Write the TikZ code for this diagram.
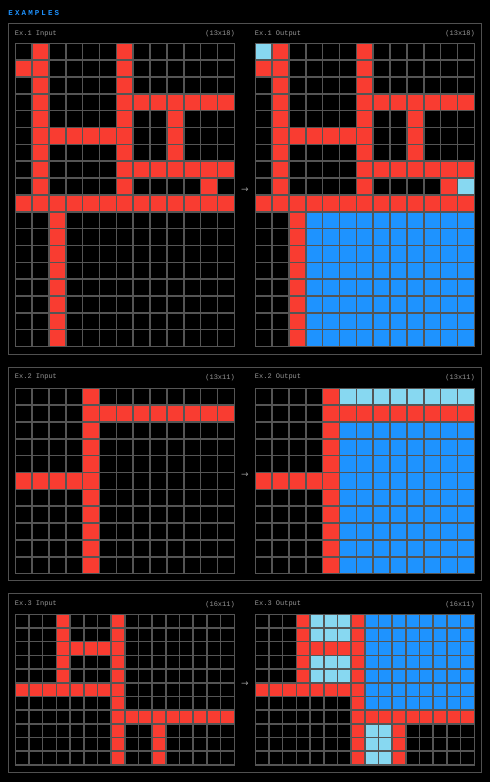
\documentclass[tikz,border=0pt]{standalone}
\usepackage{fontspec}
\setmonofont{Liberation Mono}
\newfontfamily\titlefont[LetterSpace=28]{Liberation Mono}
\newfontfamily\arrowfont{DejaVu Sans}

\begin{document}
\begin{tikzpicture}[x=1pt, y=-1pt,
    every node/.style={font=\ttfamily\fontsize{7}{8}\selectfont, inner sep=0pt, text=labeltext},
    exlabel/.style={anchor=west},
    exsize/.style={anchor=east},
    panelbox/.style={draw=panelline, line width=1pt},
    exarrow/.style={font=\arrowfont\fontsize{9}{10}\selectfont}]
    \definecolor{arc0}{RGB}{0,0,0}
    \definecolor{arc1}{RGB}{30,147,255}
    \definecolor{arc2}{RGB}{249,60,49}
    \definecolor{arc8}{RGB}{135,216,241}
    \definecolor{gridline}{RGB}{85,85,85}
    \definecolor{panelline}{RGB}{80,80,80}
    \definecolor{labeltext}{RGB}{150,150,150}
    \definecolor{titleblue}{RGB}{30,147,255}

    % Fond noir et format de la page.
    \useasboundingbox[fill=black] (0,0) rectangle (490,782);

    % Une grille : coin haut gauche, taille d'une case, lignes de couleurs.
    \newcommand{\examplegrid}[4]{%
        \foreach \row [count=\j from 0] in {#4} {
            \foreach \v [count=\i from 0] in \row {
                \filldraw[fill=arc\v, draw=gridline, line width=1.6pt]
                    ({#1+\i*#3},{#2+\j*#3}) rectangle ++(#3,#3);
            }
        }
    }

    \node[anchor=west, text=titleblue, font=\titlefont\bfseries\fontsize{7.5}{8}\selectfont] (title) at (8.3,13.3) {EXAMPLES};

    % Exemple 1.
    \draw[panelbox] (8.3,23.3) rectangle (481.3,354.3);
    \node[exlabel] (in1) at (14.7,33.7) {Ex.1 Input};
    \node[exsize] (insize1) at (235,33.7) {(13x18)};
    \node[exlabel] (out1) at (254.7,33.7) {Ex.1 Output};
    \node[exsize] (outsize1) at (475,33.7) {(13x18)};
    \examplegrid{15.3}{43.3}{16.846}{
        {0,2,0,0,0,0,2,0,0,0,0,0,0},
        {2,2,0,0,0,0,2,0,0,0,0,0,0},
        {0,2,0,0,0,0,2,0,0,0,0,0,0},
        {0,2,0,0,0,0,2,2,2,2,2,2,2},
        {0,2,0,0,0,0,2,0,0,2,0,0,0},
        {0,2,2,2,2,2,2,0,0,2,0,0,0},
        {0,2,0,0,0,0,2,0,0,2,0,0,0},
        {0,2,0,0,0,0,2,2,2,2,2,2,2},
        {0,2,0,0,0,0,2,0,0,0,0,2,0},
        {2,2,2,2,2,2,2,2,2,2,2,2,2},
        {0,0,2,0,0,0,0,0,0,0,0,0,0},
        {0,0,2,0,0,0,0,0,0,0,0,0,0},
        {0,0,2,0,0,0,0,0,0,0,0,0,0},
        {0,0,2,0,0,0,0,0,0,0,0,0,0},
        {0,0,2,0,0,0,0,0,0,0,0,0,0},
        {0,0,2,0,0,0,0,0,0,0,0,0,0},
        {0,0,2,0,0,0,0,0,0,0,0,0,0},
        {0,0,2,0,0,0,0,0,0,0,0,0,0}}
    \node[exarrow] (arrow1) at (245,190) {→};
    \examplegrid{255.3}{43.3}{16.846}{
        {8,2,0,0,0,0,2,0,0,0,0,0,0},
        {2,2,0,0,0,0,2,0,0,0,0,0,0},
        {0,2,0,0,0,0,2,0,0,0,0,0,0},
        {0,2,0,0,0,0,2,2,2,2,2,2,2},
        {0,2,0,0,0,0,2,0,0,2,0,0,0},
        {0,2,2,2,2,2,2,0,0,2,0,0,0},
        {0,2,0,0,0,0,2,0,0,2,0,0,0},
        {0,2,0,0,0,0,2,2,2,2,2,2,2},
        {0,2,0,0,0,0,2,0,0,0,0,2,8},
        {2,2,2,2,2,2,2,2,2,2,2,2,2},
        {0,0,2,1,1,1,1,1,1,1,1,1,1},
        {0,0,2,1,1,1,1,1,1,1,1,1,1},
        {0,0,2,1,1,1,1,1,1,1,1,1,1},
        {0,0,2,1,1,1,1,1,1,1,1,1,1},
        {0,0,2,1,1,1,1,1,1,1,1,1,1},
        {0,0,2,1,1,1,1,1,1,1,1,1,1},
        {0,0,2,1,1,1,1,1,1,1,1,1,1},
        {0,0,2,1,1,1,1,1,1,1,1,1,1}}

    % Exemple 2.
    \draw[panelbox] (8.3,367.3) rectangle (481.3,580);
    \node[exlabel] (in2) at (14.7,377.3) {Ex.2 Input};
    \node[exsize] (insize2) at (235,377.3) {(13x11)};
    \node[exlabel] (out2) at (254.7,377.3) {Ex.2 Output};
    \node[exsize] (outsize2) at (475,377.3) {(13x11)};
    \examplegrid{15.3}{388.3}{16.846}{
        {0,0,0,0,2,0,0,0,0,0,0,0,0},
        {0,0,0,0,2,2,2,2,2,2,2,2,2},
        {0,0,0,0,2,0,0,0,0,0,0,0,0},
        {0,0,0,0,2,0,0,0,0,0,0,0,0},
        {0,0,0,0,2,0,0,0,0,0,0,0,0},
        {2,2,2,2,2,0,0,0,0,0,0,0,0},
        {0,0,0,0,2,0,0,0,0,0,0,0,0},
        {0,0,0,0,2,0,0,0,0,0,0,0,0},
        {0,0,0,0,2,0,0,0,0,0,0,0,0},
        {0,0,0,0,2,0,0,0,0,0,0,0,0},
        {0,0,0,0,2,0,0,0,0,0,0,0,0}}
    \node[exarrow] (arrow2) at (245,475) {→};
    \examplegrid{255.3}{388.3}{16.846}{
        {0,0,0,0,2,8,8,8,8,8,8,8,8},
        {0,0,0,0,2,2,2,2,2,2,2,2,2},
        {0,0,0,0,2,1,1,1,1,1,1,1,1},
        {0,0,0,0,2,1,1,1,1,1,1,1,1},
        {0,0,0,0,2,1,1,1,1,1,1,1,1},
        {2,2,2,2,2,1,1,1,1,1,1,1,1},
        {0,0,0,0,2,1,1,1,1,1,1,1,1},
        {0,0,0,0,2,1,1,1,1,1,1,1,1},
        {0,0,0,0,2,1,1,1,1,1,1,1,1},
        {0,0,0,0,2,1,1,1,1,1,1,1,1},
        {0,0,0,0,2,1,1,1,1,1,1,1,1}}

    % Exemple 3.
    \draw[panelbox] (8.3,593.3) rectangle (481.3,772.3);
    \node[exlabel] (in3) at (14.7,604.3) {Ex.3 Input};
    \node[exsize] (insize3) at (235,604.3) {(16x11)};
    \node[exlabel] (out3) at (254.7,604.3) {Ex.3 Output};
    \node[exsize] (outsize3) at (475,604.3) {(16x11)};
    \examplegrid{15.3}{614.3}{13.6875}{
        {0,0,0,2,0,0,0,2,0,0,0,0,0,0,0,0},
        {0,0,0,2,0,0,0,2,0,0,0,0,0,0,0,0},
        {0,0,0,2,2,2,2,2,0,0,0,0,0,0,0,0},
        {0,0,0,2,0,0,0,2,0,0,0,0,0,0,0,0},
        {0,0,0,2,0,0,0,2,0,0,0,0,0,0,0,0},
        {2,2,2,2,2,2,2,2,0,0,0,0,0,0,0,0},
        {0,0,0,0,0,0,0,2,0,0,0,0,0,0,0,0},
        {0,0,0,0,0,0,0,2,2,2,2,2,2,2,2,2},
        {0,0,0,0,0,0,0,2,0,0,2,0,0,0,0,0},
        {0,0,0,0,0,0,0,2,0,0,2,0,0,0,0,0},
        {0,0,0,0,0,0,0,2,0,0,2,0,0,0,0,0}}
    \node[exarrow] (arrow3) at (245,684) {→};
    \examplegrid{255.3}{614.3}{13.6875}{
        {0,0,0,2,8,8,8,2,1,1,1,1,1,1,1,1},
        {0,0,0,2,8,8,8,2,1,1,1,1,1,1,1,1},
        {0,0,0,2,2,2,2,2,1,1,1,1,1,1,1,1},
        {0,0,0,2,8,8,8,2,1,1,1,1,1,1,1,1},
        {0,0,0,2,8,8,8,2,1,1,1,1,1,1,1,1},
        {2,2,2,2,2,2,2,2,1,1,1,1,1,1,1,1},
        {0,0,0,0,0,0,0,2,1,1,1,1,1,1,1,1},
        {0,0,0,0,0,0,0,2,2,2,2,2,2,2,2,2},
        {0,0,0,0,0,0,0,2,8,8,2,0,0,0,0,0},
        {0,0,0,0,0,0,0,2,8,8,2,0,0,0,0,0},
        {0,0,0,0,0,0,0,2,8,8,2,0,0,0,0,0}}
\end{tikzpicture}
\end{document}
